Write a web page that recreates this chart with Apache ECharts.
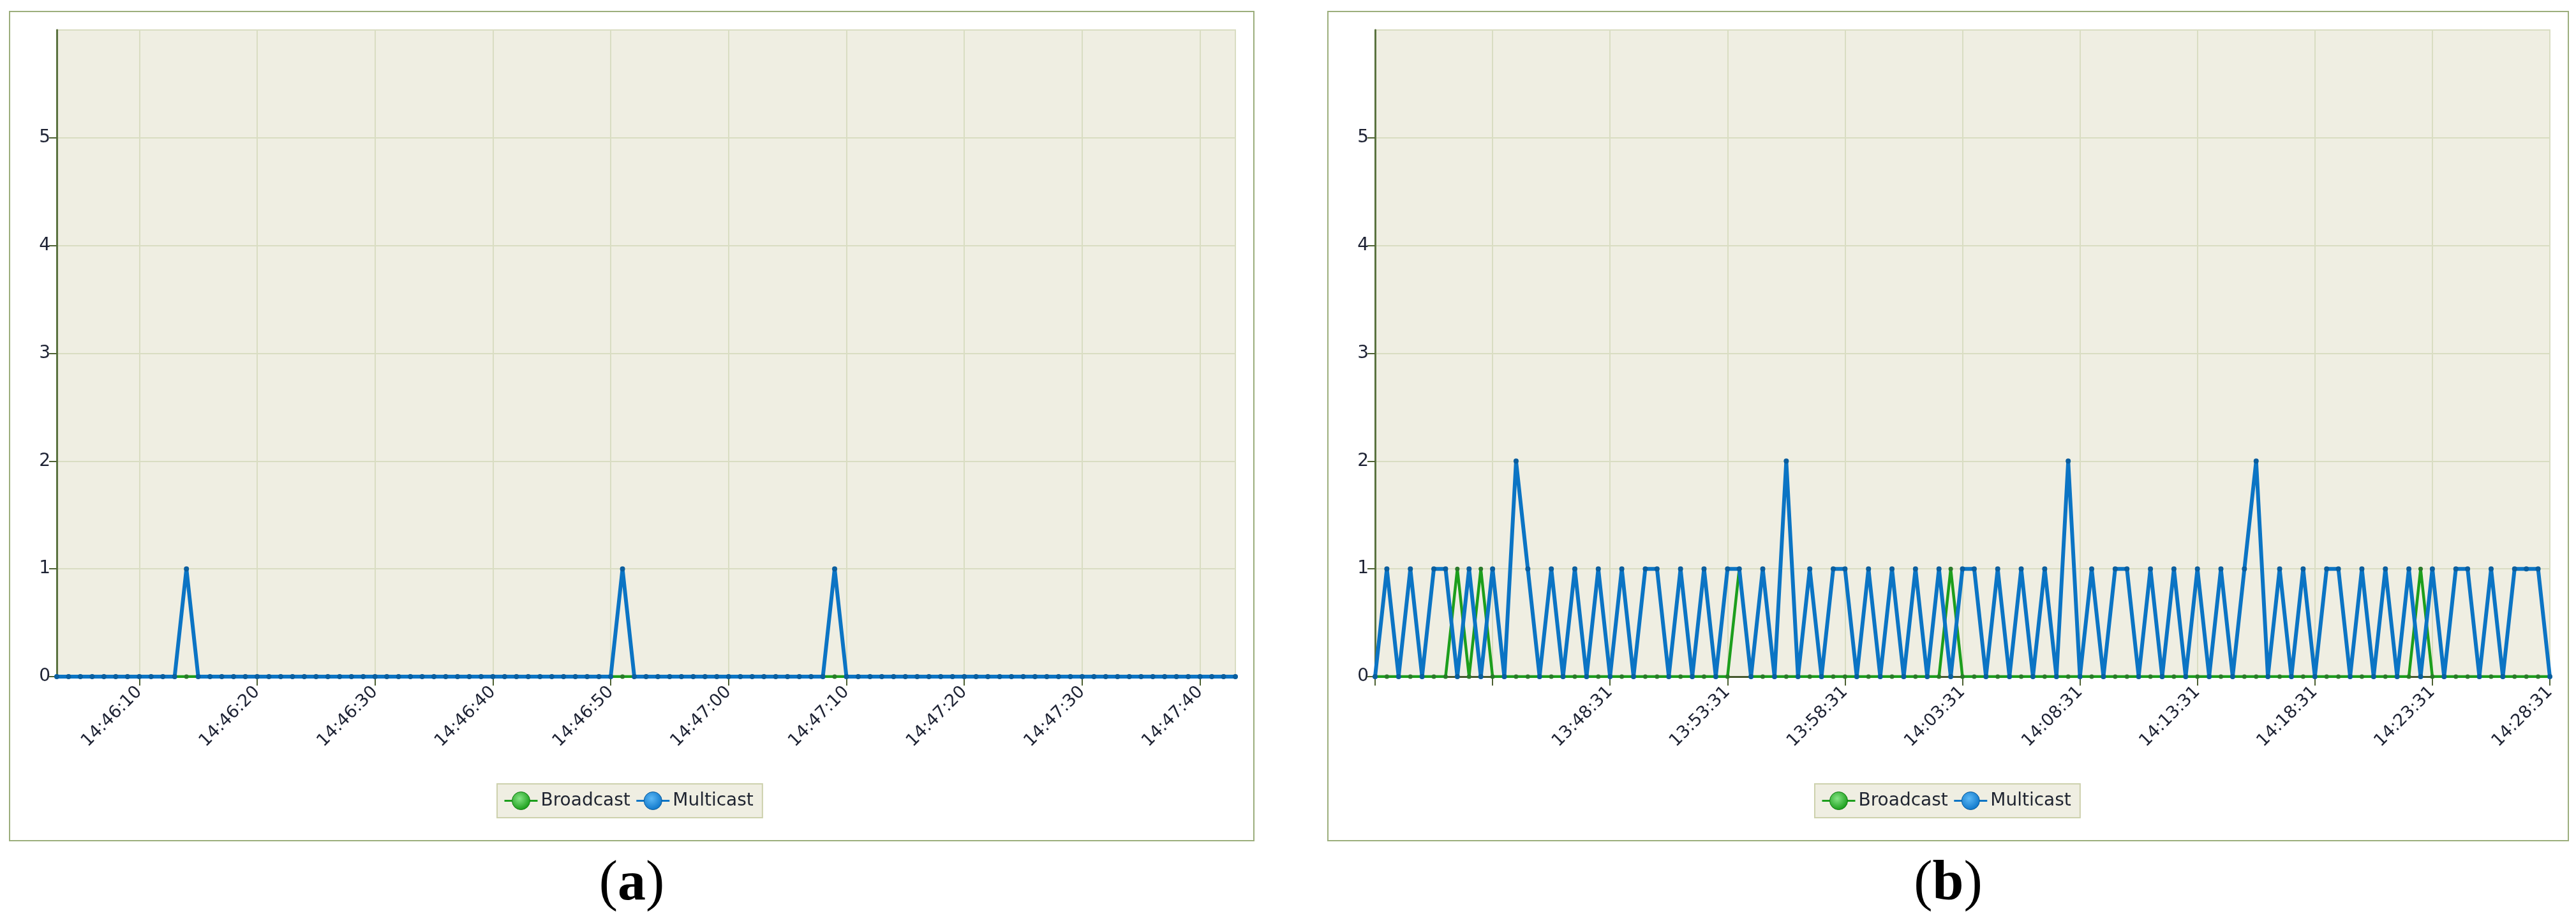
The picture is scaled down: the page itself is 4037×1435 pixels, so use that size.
<!DOCTYPE html>
<html><head><meta charset="utf-8">
<script src="https://cdn.jsdelivr.net/npm/echarts@6/dist/echarts.min.js"></script>
<style>html,body{margin:0;padding:0;background:#fff}#c{width:4037px;height:1435px}</style>
</head><body><div id="c"></div>
<script>
// ---------- DATA ----------
// Panel (a): samples every 1 s starting 14:46:03
const startA = '14:46:03';
const stepA = 1;
const broadcastA = [
0,0,0,0,0,0,0,0,0,0, 0,0,0,0,0,0,0,0,0,0, 0,0,0,0,0,0,0,0,0,0, 0,0,0,0,0,0,0,0,0,0,
0,0,0,0,0,0,0,0,0,0, 0,0,0,0,0,0,0,0,0,0, 0,0,0,0,0,0,0,0,0,0, 0,0,0,0,0,0,0,0,0,0,
0,0,0,0,0,0,0,0,0,0, 0,0,0,0,0,0,0,0,0,0, 0];
const multicastA = [
0,0,0,0,0,0,0,0,0,0, 0,1,0,0,0,0,0,0,0,0, 0,0,0,0,0,0,0,0,0,0, 0,0,0,0,0,0,0,0,0,0,
0,0,0,0,0,0,0,0,1,0, 0,0,0,0,0,0,0,0,0,0, 0,0,0,0,0,0,1,0,0,0, 0,0,0,0,0,0,0,0,0,0,
0,0,0,0,0,0,0,0,0,0, 0,0,0,0,0,0,0,0,0,0, 0];
const tickLabelsA = ['14:46:10','14:46:20','14:46:30','14:46:40','14:46:50','14:47:00','14:47:10','14:47:20','14:47:30','14:47:40'];

// Panel (b): samples every 30 s starting 13:38:31
const startB = '13:38:31';
const stepB = 30;
const broadcastB = [
0,0,0,0,0,0,0,1,0,1, 0,0,0,0,0,0,0,0,0,0, 0,0,0,0,0,0,0,0,0,0, 0,1,0,0,0,0,0,0,0,0,
0,0,0,0,0,0,0,0,0,1, 0,0,0,0,0,0,0,0,0,0, 0,0,0,0,0,0,0,0,0,0, 0,0,0,0,0,0,0,0,0,0,
0,0,0,0,0,0,0,0,0,1, 0,0,0,0,0,0,0,0,0,0, 0];
const multicastB = [
0,1,0,1,0,1,1,0,1,0, 1,0,2,1,0,1,0,1,0,1, 0,1,0,1,1,0,1,0,1,0, 1,1,0,1,0,2,0,1,0,1,
1,0,1,0,1,0,1,0,1,0, 1,1,0,1,0,1,0,1,0,2, 0,1,0,1,1,0,1,0,1,0, 1,0,1,0,1,2,0,1,0,1,
0,1,1,0,1,0,1,0,1,0, 1,0,1,1,0,1,0,1,1,1, 0];
const tickMarksB = ['13:38:31','13:43:31','13:48:31','13:53:31','13:58:31','14:03:31','14:08:31','14:13:31','14:18:31','14:23:31','14:28:31'];
const tickLabelsB = ['13:48:31','13:53:31','13:58:31','14:03:31','14:08:31','14:13:31','14:18:31','14:23:31','14:28:31'];

const yTicks = [0,1,2,3,4,5];

// ---------- helpers ----------
function toSec(s){const p=s.split(':').map(Number);return p[0]*3600+p[1]*60+p[2];}
function fmt(t){const p=n=>String(n).padStart(2,'0');return p(Math.floor(t/3600))+':'+p(Math.floor(t/60)%60)+':'+p(t%60);}
function cats(start, step, n){const s=toSec(start);const out=[];for(let i=0;i<n;i++)out.push(fmt(s+i*step));return out;}
const catsA = cats(startA, stepA, multicastA.length);
const catsB = cats(startB, stepB, multicastB.length);

const FONT = 'DejaVu Sans';
const axisDark = '#4e6233';
const gridLine = '#d9ddc2';
const blue = '#0b74c4', blueDot = '#0a5e9f';
const green = '#1c9e1c', greenDot = '#2a7a2a';

function xAxis(gi, data, markList, labelList){
  return {
    type:'category', gridIndex:gi, data, boundaryGap:false,
    axisLine:{show:true, lineStyle:{color:'#45572d', width:3}},
    axisTick:{show:true, length:14, interval:(i,v)=>markList.includes(v), lineStyle:{color:axisDark, width:2}},
    axisLabel:{show:true, rotate:45, margin:20, interval:(i,v)=>labelList.includes(v),
      fontFamily:FONT, fontSize:27, color:'#1d2233'},
    splitLine:{show:true, interval:(i,v)=>markList.includes(v), lineStyle:{color:gridLine, width:2}}
  };
}
function yAxis(gi){
  return {
    type:'value', gridIndex:gi, min:0, max:6, interval:1,
    axisLine:{show:true, lineStyle:{color:'#5b7340', width:3}},
    axisTick:{show:true, length:12, customValues:yTicks, lineStyle:{color:axisDark, width:2}},
    axisLabel:{show:true, margin:10, customValues:yTicks, fontFamily:FONT, fontSize:28, color:'#1d2233'},
    splitLine:{show:true, lineStyle:{color:gridLine, width:2}}
  };
}
function seriesPair(gi, b, m){
  return [
    {name:'Broadcast', type:'line', xAxisIndex:gi, yAxisIndex:gi, data:b, symbol:'circle', symbolSize:7,
     showSymbol:true, showAllSymbol:true, lineStyle:{color:green, width:4.5}, itemStyle:{color:greenDot}, z:3},
    {name:'Multicast', type:'line', xAxisIndex:gi, yAxisIndex:gi, data:m, symbol:'circle', symbolSize:8,
     showSymbol:true, showAllSymbol:true, lineStyle:{color:blue, width:6}, itemStyle:{color:blueDot}, z:4}
  ];
}
const gradG = {type:'radial', x:0.42, y:0.38, r:0.65, colorStops:[{offset:0,color:'#86e486'},{offset:1,color:'#149a14'}]};
const gradB = {type:'radial', x:0.42, y:0.38, r:0.65, colorStops:[{offset:0,color:'#5cb8f5'},{offset:1,color:'#0b74c8'}]};
function legend(left){
  return {left, top:1228, orient:'horizontal', itemWidth:52, itemHeight:35, itemGap:8,
    padding:[12,14,12,10], backgroundColor:'#efeee2', borderColor:'#cdd1ad', borderWidth:2,
    selectedMode:false, lineStyle:{width:3},
    textStyle:{fontFamily:FONT, fontSize:28, color:'#1f2430'},
    data:[{name:'Broadcast', itemStyle:{color:gradG, borderColor:'#137a13', borderWidth:1}},
          {name:'Multicast', itemStyle:{color:gradB, borderColor:'#0a5a9a', borderWidth:1}}]};
}
function label(x, letter){
  return {type:'text', x, y:1386, style:{text:'{p|(}{b|'+letter+'}{p|)}', align:'center', verticalAlign:'middle',
    rich:{p:{fontFamily:'Liberation Serif', fontSize:88, fill:'#000', fontWeight:'normal'},
          b:{fontFamily:'Liberation Serif', fontSize:88, fill:'#000', fontWeight:'bold'}}}};
}

const chart = echarts.init(document.getElementById('c'), null, {renderer:'canvas'});
chart.setOption({
  animation:false,
  backgroundColor:'#ffffff',
  grid:[
    {left:89, top:47, width:1847, height:1013, show:true, backgroundColor:'#efeee2', borderColor:gridLine, borderWidth:2},
    {left:2155, top:47, width:1841, height:1013, show:true, backgroundColor:'#efeee2', borderColor:gridLine, borderWidth:2}
  ],
  xAxis:[xAxis(0, catsA, tickLabelsA, tickLabelsA), xAxis(1, catsB, tickMarksB, tickLabelsB)],
  yAxis:[yAxis(0), yAxis(1)],
  legend:[legend(779), legend(2844)],
  series:[...seriesPair(0, broadcastA, multicastA), ...seriesPair(1, broadcastB, multicastB)],
  graphic:[
    {type:'rect', shape:{x:15, y:18, width:1950, height:1299}, style:{fill:'none', stroke:'#9cae7c', lineWidth:2}, z:-1},
    {type:'rect', shape:{x:2081, y:18, width:1944, height:1299}, style:{fill:'none', stroke:'#9cae7c', lineWidth:2}, z:-1},
    label(990, 'a'),
    label(3053, 'b')
  ]
});
</script></body></html>
